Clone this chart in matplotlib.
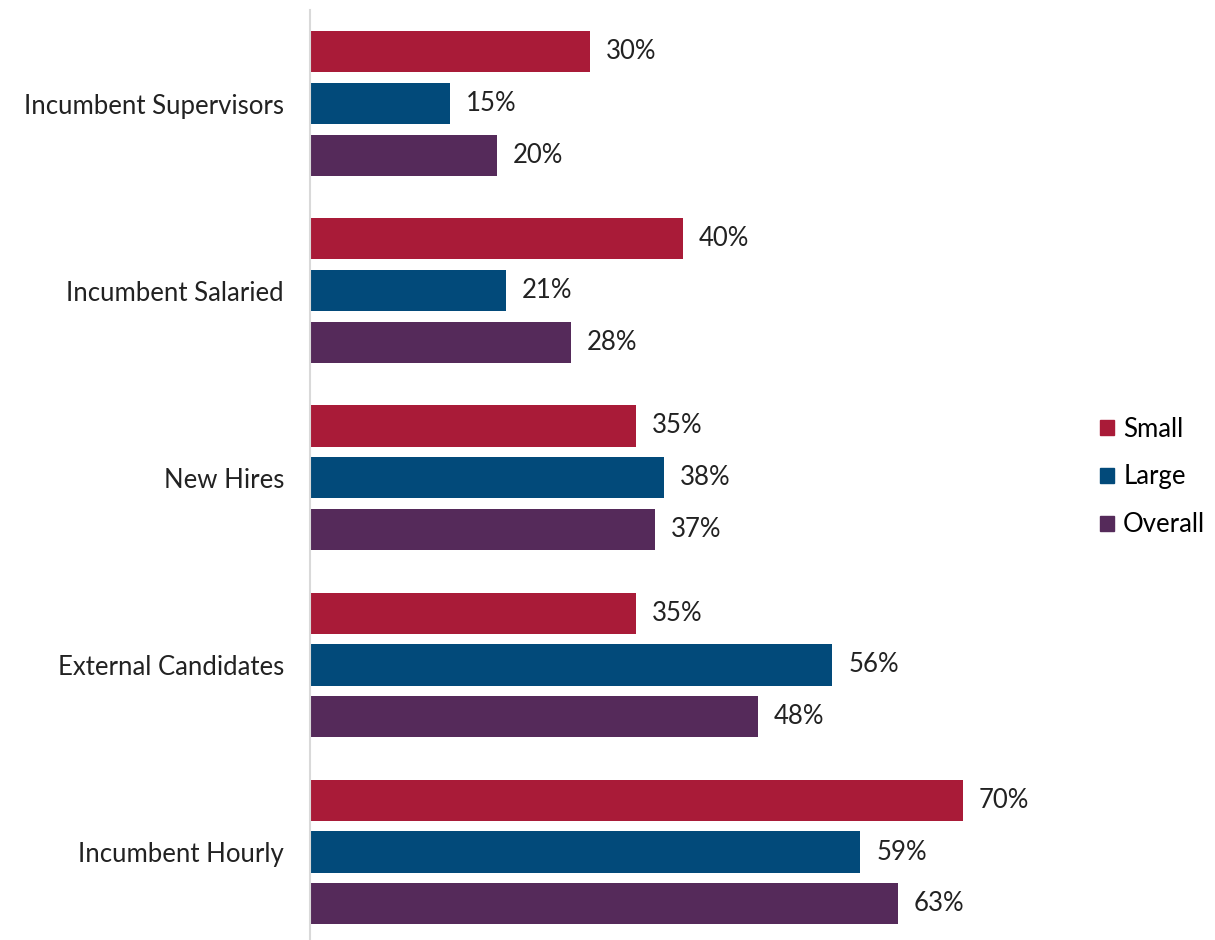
import matplotlib.pyplot as plt
import numpy as np
from matplotlib.patches import Patch

categories = ["Incumbent Supervisors", "Incumbent Salaried", "New Hires",
              "External Candidates", "Incumbent Hourly"]
small = [30, 40, 35, 35, 70]
large = [15, 21, 38, 56, 59]
overall = [20, 28, 37, 48, 63]

series = [("Small", small, "#A91B38"),
          ("Large", large, "#024A7A"),
          ("Overall", overall, "#552A5A")]

plt.rcParams['font.family'] = ['Lato', 'DejaVu Sans']
FS = 18.5

fig = plt.figure(figsize=(12.15, 9.4), dpi=100)
ax = fig.add_axes([310 / 1215, 0, 750 / 1215, 930 / 940])

y = np.arange(len(categories))
step = 0.277
h = 0.22
for k, (name, vals, col) in enumerate(series):
    pos = y + (k - 1) * step
    ax.barh(pos, vals, height=h, color=col, label=name)
    for p, v in zip(pos, vals):
        ax.text(v + 1.7, p, f"{v}%", va='center', ha='left', fontsize=FS, color='#222222')

ax.set_xlim(0, 80.4)
ax.set_ylim(4.47, -0.5)
ax.set_yticks(y)
ax.set_yticklabels(categories, fontsize=FS, color='#222222')
ax.tick_params(axis='y', length=0, pad=18.7)
ax.set_xticks([])
for s in ['top', 'right', 'bottom']:
    ax.spines[s].set_visible(False)
ax.spines['left'].set_color('#d9d9d9')
ax.spines['left'].set_linewidth(1.5)

handles = [Patch(color=c, label=n) for n, _, c in series]
fig.legend(handles=handles, loc='center left', bbox_to_anchor=(1100 / 1215, 1 - 477 / 940),
           frameon=False, fontsize=FS, handlelength=0.55, handleheight=0.55,
           handletextpad=0.35, labelspacing=0.89, borderpad=0, borderaxespad=0)

fig.savefig("out.png", dpi=100)
